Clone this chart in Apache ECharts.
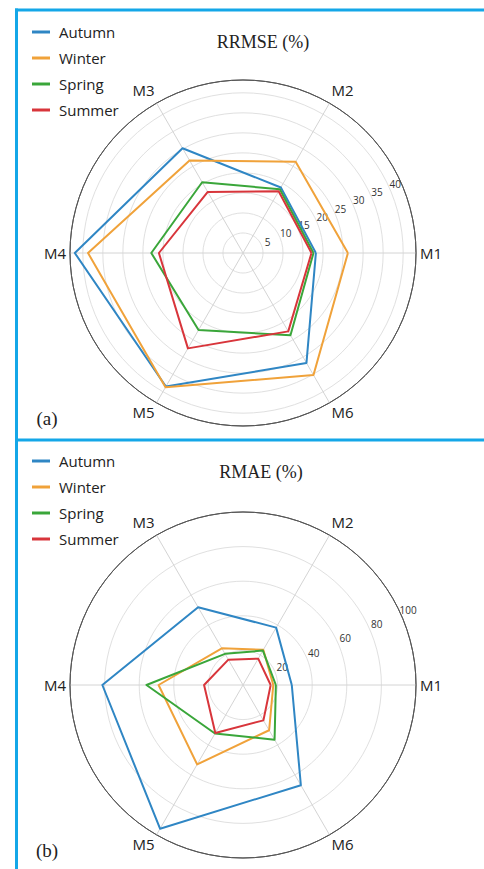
<!DOCTYPE html>
<html>
<head>
<meta charset="utf-8">
<script src="https://cdn.jsdelivr.net/npm/echarts@6/dist/echarts.min.js"></script>
<style>
html,body{margin:0;padding:0;background:#fff;}
#chart{width:484px;height:869px;}
</style>
</head>
<body>
<div id="chart"></div>
<script>
// ---- data ----
const indicators = ['M1', 'M2', 'M3', 'M4', 'M5', 'M6'];
const seasons = ['Autumn', 'Winter', 'Spring', 'Summer'];

// Panel (a): RRMSE (%)
const rrmseAutumn = [18.2, 18.9, 30.2, 42.0, 38.5, 31.7];
const rrmseWinter = [26.2, 26.3, 26.7, 38.7, 38.7, 35.2];
const rrmseSpring = [17.6, 18.4, 20.4, 22.9, 22.2, 23.7];
const rrmseSummer = [17.1, 17.8, 17.6, 21.0, 27.5, 22.6];

// Panel (b): RMAE (%)
const rmaeAutumn = [28.2, 38.3, 51.9, 81.3, 95.9, 66.9];
const rmaeWinter = [17.5, 23.5, 24.5, 48.8, 53.0, 30.2];
const rmaeSpring = [19.0, 23.0, 20.8, 55.8, 32.4, 36.5];
const rmaeSummer = [16.0, 17.6, 16.9, 22.5, 32.0, 23.6];

// radial axes: outer limit and tick step
const rrmseMax = 43.2, rrmseStep = 5;
const rmaeMax = 100, rmaeStep = 20;

// ---- styling ----
const colors = ['#2f86c4', '#f0a23a', '#3aa63a', '#d8353b'];
const sansFont = '"Open Sans", "Noto Sans", sans-serif';
const serifFont = '"Liberation Serif", "DejaVu Serif", serif';
const panels = [
  { cy: 253, r: 173, max: rrmseMax, step: rrmseStep, data: [rrmseAutumn, rrmseWinter, rrmseSpring, rrmseSummer], legendTop: 18, labelOffset: 7 },
  { cy: 685, r: 173, max: rmaeMax, step: rmaeStep, data: [rmaeAutumn, rmaeWinter, rmaeSpring, rmaeSummer], legendTop: 447, labelOffset: 8.5 }
];
const cx = 243;

function nameKey(name) {
  if (name === 'M2' || name === 'M3') return 'up';
  if (name === 'M5' || name === 'M6') return 'down';
  return 'mid';
}

const radar = [], polar = [], angleAxis = [], radiusAxis = [], legend = [], series = [];
// grid polars (index 0,1)
panels.forEach((p, pi) => {
  const isMultiple = Math.abs(p.max / p.step - Math.round(p.max / p.step)) < 1e-9;
  const nTicks = Math.floor(p.max / p.step + 1e-9) + 1 + (isMultiple ? 0 : 1);
  const ringColors = [];
  for (let i = 0; i < nTicks; i++) ringColors.push(i === nTicks - 1 ? '#555555' : '#e0e0e0');
  polar.push({ center: [cx, p.cy], radius: p.r });
  angleAxis.push({
    polarIndex: pi, type: 'value', min: 0, max: 360, interval: 60, startAngle: 0, clockwise: false,
    axisLine: { show: true, lineStyle: { color: '#555555', width: 1 } },
    axisTick: { show: false }, axisLabel: { show: false },
    splitLine: { show: true, lineStyle: { color: '#d4d4d4', width: 1 } }
  });
  radiusAxis.push({
    polarIndex: pi, type: 'value', min: 0, max: p.max, interval: p.step,
    axisLine: { show: false }, axisTick: { show: false }, axisLabel: { show: false },
    splitLine: { show: true, lineStyle: { color: ringColors, width: 1 } }
  });
});
// label polars (index 2,3): radial tick labels along ~24 degrees
panels.forEach((p, pi) => {
  polar.push({ center: [cx, p.cy], radius: [p.labelOffset, p.labelOffset + p.r] });
  angleAxis.push({ polarIndex: 2 + pi, type: 'value', min: 0, max: 360, startAngle: 24.5, show: false });
  radiusAxis.push({
    polarIndex: 2 + pi, type: 'value', min: 0, max: p.max, interval: p.step,
    axisLine: { show: false }, axisTick: { show: false }, splitLine: { show: false },
    axisLabel: { show: true, color: '#333', fontSize: 10, fontFamily: sansFont, margin: 0,
      align: 'center', verticalAlign: 'middle',
      formatter: v => (v === 0 || Math.abs(v / p.step - Math.round(v / p.step)) > 1e-9 ? '' : String(v)) }
  });
});
panels.forEach((p, pi) => {
  radar.push({
    center: [cx, p.cy],
    radius: p.r,
    startAngle: 0,
    shape: 'circle',
    indicator: indicators.map(name => ({ name: name, min: 0, max: p.max })),
    axisName: {
      color: '#222', fontFamily: sansFont, fontSize: 15,
      formatter: name => '{' + nameKey(name) + '|' + name + '}',
      rich: {
        up: { fontFamily: sansFont, fontSize: 15, color: '#222', padding: [0, 0, 20, 0] },
        down: { fontFamily: sansFont, fontSize: 15, color: '#222', padding: [12, 0, 0, 0] },
        mid: { fontFamily: sansFont, fontSize: 15, color: '#222' }
      }
    },
    nameGap: 4,
    axisLine: { show: false },
    splitLine: { show: false },
    splitArea: { show: false },
    axisLabel: { show: false },
    axisTick: { show: false }
  });
  legend.push({
    data: seasons,
    orient: 'vertical',
    left: 27,
    top: p.legendTop,
    icon: 'rect',
    itemWidth: 18,
    itemHeight: 3,
    itemGap: 8,
    textStyle: { color: '#222', fontFamily: sansFont, fontSize: 15, lineHeight: 18, padding: [0, 0, 0, 4] }
  });
  seasons.forEach((s, si) => {
    series.push({
      type: 'radar',
      radarIndex: pi,
      name: s,
      symbol: 'none',
      lineStyle: { color: colors[si], width: 2 },
      itemStyle: { color: colors[si] },
      data: [{ value: p.data[si], name: s }],
      silent: true
    });
  });
});

const border = '#14a7e8';
const option = {
  animation: false,
  backgroundColor: '#ffffff',
  color: colors,
  radar: radar,
  polar: polar,
  angleAxis: angleAxis,
  radiusAxis: radiusAxis,
  legend: legend,
  series: series,
  graphic: [
    { type: 'line', shape: { x1: 16.5, y1: 8.5, x2: 16.5, y2: 869 }, style: { stroke: border, lineWidth: 3 } },
    { type: 'line', shape: { x1: 15, y1: 10, x2: 484, y2: 10 }, style: { stroke: border, lineWidth: 3 } },
    { type: 'line', shape: { x1: 15, y1: 440, x2: 484, y2: 440 }, style: { stroke: border, lineWidth: 3 } },
    { type: 'text', x: 263, y: 42, style: { text: 'RRMSE (%)', fill: '#222', font: '18px ' + serifFont, align: 'center', verticalAlign: 'middle' } },
    { type: 'text', x: 261, y: 472, style: { text: 'RMAE (%)', fill: '#222', font: '18px ' + serifFont, align: 'center', verticalAlign: 'middle' } },
    { type: 'text', x: 47, y: 418, style: { text: '(a)', fill: '#222', font: '19px ' + serifFont, align: 'center', verticalAlign: 'middle' } },
    { type: 'text', x: 47, y: 850, style: { text: '(b)', fill: '#222', font: '19px ' + serifFont, align: 'center', verticalAlign: 'middle' } }
  ]
};

const chart = echarts.init(document.getElementById('chart'), null, { renderer: 'svg' });
chart.setOption(option);
</script>
</body>
</html>
